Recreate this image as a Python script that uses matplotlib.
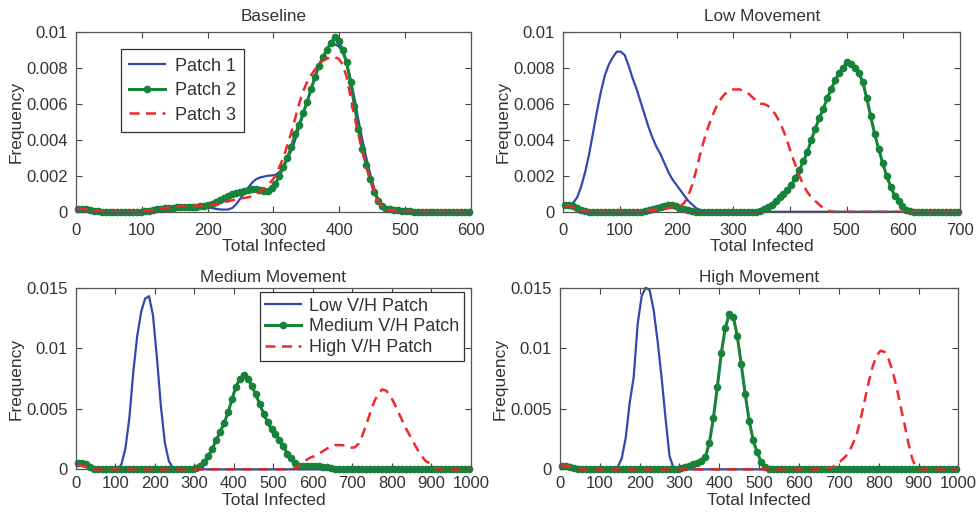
import numpy as np
import matplotlib
matplotlib.use("Agg")
import matplotlib.pyplot as plt
from matplotlib.ticker import FuncFormatter

plt.rcParams["font.family"] = ["Liberation Sans", "DejaVu Sans"]

# bin widths of the histograms (x positions are bin centres)
bin_base = 6
bin_low = 7
bin_big = 10

# ---- Baseline ----
base_p1 = [
    0.00015, 0.00015, 0.00014, 0.0001, 0.00006, 0.00003, 0.00001, 0, 0, 0,
    0, 0, 0, 0, 0, 0, 0, 0.00003, 0.00006, 0.0001,
    0.00013, 0.00016, 0.00019, 0.00021, 0.00023, 0.00025, 0.00026, 0.00027, 0.00027, 0.00028,
    0.00028, 0.00028, 0.00027, 0.00024, 0.0002, 0.00016, 0.00013, 0.00012, 0.00013, 0.0002,
    0.0004, 0.0007, 0.001, 0.0013, 0.0016, 0.0018, 0.0019, 0.00195, 0.002, 0.00202,
    0.00205, 0.0022, 0.0025, 0.0029, 0.0034, 0.004, 0.0047, 0.0054, 0.0061, 0.0068,
    0.0075, 0.0081, 0.0086, 0.009, 0.0093, 0.0093, 0.0092, 0.0089, 0.0083, 0.0074,
    0.0063, 0.0051, 0.004, 0.003, 0.0021, 0.0013, 0.0007, 0.0003, 0.00015, 0.0001,
    0.00008, 0.00006, 0.00004, 0.00002, 0.00001, 0, 0, 0, 0, 0,
    0, 0, 0, 0, 0, 0, 0, 0, 0, 0,
]
base_p2 = [
    0.00015, 0.00015, 0.00014, 0.0001, 0.00006, 0.00003, 0.00001, 0, 0, 0,
    0, 0, 0, 0, 0, 0, 0, 0.00003, 0.00006, 0.0001,
    0.00013, 0.00016, 0.00019, 0.00021, 0.00023, 0.00025, 0.00026, 0.00027, 0.00027, 0.00028,
    0.00029, 0.0003, 0.00032, 0.00036, 0.00045, 0.00055, 0.00065, 0.00077, 0.00088, 0.00097,
    0.00103, 0.00108, 0.00114, 0.0012, 0.00125, 0.00126, 0.0012, 0.00113, 0.00115, 0.0013,
    0.00155, 0.002, 0.0025, 0.003, 0.0036, 0.0043, 0.0048, 0.0055, 0.0061, 0.0068,
    0.0075, 0.0081, 0.0086, 0.009, 0.0094, 0.0097, 0.0095, 0.009, 0.0083, 0.0072,
    0.0059, 0.0046, 0.0035, 0.0026, 0.0018, 0.0011, 0.0006, 0.0003, 0.00018, 0.00013,
    0.0001, 0.00008, 0.00006, 0.00004, 0.00002, 0.00001, 0, 0, 0, 0,
    0, 0, 0, 0, 0, 0, 0, 0, 0, 0,
]
base_p3 = [
    0.0002, 0.00018, 0.00014, 0.0001, 0.00006, 0.00003, 0.00001, 0, 0, 0,
    0, 0, 0, 0, 0, 0, 0, 0.00003, 0.00007, 0.00011,
    0.00015, 0.00018, 0.00021, 0.00024, 0.00027, 0.0003, 0.00032, 0.00033, 0.00033, 0.00033,
    0.00033, 0.00033, 0.00034, 0.00035, 0.00038, 0.00042, 0.00047, 0.00053, 0.00058, 0.00063,
    0.00068, 0.00072, 0.00076, 0.0008, 0.00086, 0.00095, 0.0011, 0.0013, 0.0015, 0.0017,
    0.002, 0.0025, 0.003, 0.0037, 0.0044, 0.0052, 0.006, 0.0067, 0.0072, 0.0076,
    0.0079, 0.0082, 0.0084, 0.0085, 0.0086, 0.0086, 0.0085, 0.0082, 0.0075, 0.0064,
    0.0053, 0.0043, 0.0033, 0.0025, 0.0018, 0.0011, 0.0006, 0.0003, 0.00015, 0.0001,
    0.00005, 0.00002, 0, 0, 0, 0, 0, 0, 0, 0,
    0, 0, 0, 0, 0, 0, 0, 0, 0, 0,
]

# ---- Low Movement ----
low_p1 = [
    0.0003, 0.0003, 0.0005, 0.0008, 0.0014, 0.0022, 0.0032, 0.0044, 0.0056, 0.0067,
    0.0076, 0.0082, 0.0086, 0.0089, 0.0089, 0.0087, 0.0081, 0.0074, 0.0068, 0.0061,
    0.0054, 0.0047, 0.0041, 0.0036, 0.0032, 0.0027, 0.0022, 0.0018, 0.0015, 0.0012,
    0.0009, 0.0006, 0.0004, 0.0002, 0.0001, 0, 0, 0, 0, 0,
    0, 0, 0, 0, 0, 0, 0, 0, 0, 0,
    0, 0, 0, 0, 0, 0, 0, 0, 0, 0,
    0, 0, 0, 0, 0, 0, 0, 0, 0, 0,
    0, 0, 0, 0, 0, 0, 0, 0, 0, 0,
    0, 0, 0, 0, 0, 0, 0, 0, 0, 0,
    0, 0, 0, 0, 0, 0, 0, 0, 0, 0,
]
low_p2 = [
    0.00035, 0.00035, 0.0003, 0.0002, 0.0001, 0.00005, 0, 0, 0, 0,
    0, 0, 0, 0, 0, 0, 0, 0, 0, 0,
    0.00003, 0.00008, 0.00015, 0.0002, 0.00027, 0.00032, 0.00035, 0.00035, 0.0003, 0.00022,
    0.00014, 0.00008, 0.00004, 0.00001, 0, 0, 0, 0, 0, 0,
    0, 0, 0, 0, 0, 0, 0, 0, 0, 0.00005,
    0.00015, 0.00025, 0.0004, 0.0006, 0.0008, 0.001, 0.0012, 0.0015, 0.0019, 0.0023,
    0.0028, 0.0033, 0.004, 0.0046, 0.0052, 0.0057, 0.0063, 0.0068, 0.0073, 0.0077,
    0.008, 0.0083, 0.0082, 0.008, 0.0077, 0.0072, 0.0063, 0.0053, 0.0043, 0.0035,
    0.0027, 0.002, 0.0014, 0.0009, 0.0006, 0.0003, 0.0001, 0.00002, 0, 0,
    0, 0, 0, 0, 0, 0, 0, 0, 0, 0,
]
low_p3 = [
    0.00035, 0.0003, 0.00025, 0.00015, 0.0001, 0.00003, 0, 0, 0, 0,
    0, 0, 0, 0, 0, 0, 0, 0, 0, 0,
    0.00005, 0.0001, 0.0001, 0.00015, 0.0002, 0.0002, 0.0002, 0.00025, 0.0003, 0.0003,
    0.0005, 0.0009, 0.0015, 0.0023, 0.0032, 0.004, 0.0047, 0.0053, 0.0058, 0.0062,
    0.0065, 0.0067, 0.0068, 0.0068, 0.0068, 0.0067, 0.0066, 0.0064, 0.0062, 0.006,
    0.006, 0.0059, 0.0057, 0.0054, 0.005, 0.0045, 0.0039, 0.0032, 0.0026, 0.002,
    0.0015, 0.0011, 0.0008, 0.0006, 0.0004, 0.0002, 0.0001, 0, 0, 0,
    0, 0, 0, 0, 0, 0, 0, 0, 0, 0,
    0, 0, 0, 0, 0, 0, 0, 0, 0, 0,
    0, 0, 0, 0, 0, 0, 0, 0, 0, 0,
]

# ---- Medium Movement ----
med_low = [
    0.0005, 0.0005, 0.0004, 0.0002, 0.00005, 0, 0, 0, 0, 0,
    0, 0.0004, 0.0017, 0.0042, 0.008, 0.011, 0.013, 0.0141, 0.0143, 0.0127,
    0.0092, 0.0052, 0.0022, 0.0007, 0.0001, 0, 0, 0, 0, 0,
    0, 0, 0, 0, 0, 0, 0, 0, 0, 0,
    0, 0, 0, 0, 0, 0, 0, 0, 0, 0,
    0, 0, 0, 0, 0, 0, 0, 0, 0, 0,
    0, 0, 0, 0, 0, 0, 0, 0, 0, 0,
    0, 0, 0, 0, 0, 0, 0, 0, 0, 0,
    0, 0, 0, 0, 0, 0, 0, 0, 0, 0,
    0, 0, 0, 0, 0, 0, 0, 0, 0, 0,
]
med_med = [
    0.0005, 0.0005, 0.0004, 0.0002, 0.00005, 0, 0, 0, 0, 0,
    0, 0, 0, 0, 0, 0, 0, 0, 0, 0,
    0, 0, 0, 0, 0, 0, 0, 0, 0, 0.00003,
    0.0001, 0.0003, 0.0006, 0.0011, 0.0017, 0.0024, 0.0031, 0.0038, 0.0047, 0.0058,
    0.0068, 0.0075, 0.0078, 0.0075, 0.0069, 0.0062, 0.0054, 0.0046, 0.0039, 0.0033,
    0.0029, 0.0024, 0.0019, 0.0013, 0.0009, 0.0005, 0.0003, 0.0003, 0.0003, 0.0003,
    0.0003, 0.0003, 0.0002, 0.0002, 0.0001, 0.00005, 0, 0, 0, 0,
    0, 0, 0, 0, 0, 0, 0, 0, 0, 0,
    0, 0, 0, 0, 0, 0, 0, 0, 0, 0,
    0, 0, 0, 0, 0, 0, 0, 0, 0, 0,
]
med_high = [
    0.0004, 0.0003, 0.0002, 0.0001, 0, 0, 0, 0, 0, 0,
    0, 0, 0, 0, 0, 0, 0, 0, 0, 0,
    0, 0, 0, 0, 0, 0, 0, 0, 0, 0,
    0, 0, 0, 0, 0, 0, 0, 0, 0, 0,
    0, 0, 0, 0, 0, 0, 0, 0, 0, 0,
    0, 0, 0, 0, 0, 0.0001, 0.0003, 0.0006, 0.0008, 0.001,
    0.0011, 0.0013, 0.0015, 0.0017, 0.0019, 0.002, 0.002, 0.002, 0.0019, 0.0018,
    0.0018, 0.0021, 0.0028, 0.0037, 0.0047, 0.0056, 0.0062, 0.0066, 0.0065, 0.0061,
    0.0055, 0.0048, 0.0041, 0.0034, 0.0028, 0.0022, 0.0016, 0.0011, 0.0007, 0.0005,
    0.0002, 0.00005, 0, 0, 0, 0, 0, 0, 0, 0,
]

# ---- High Movement ----
high_low = [
    0.0003, 0.0003, 0.0002, 0.0001, 0, 0, 0, 0, 0, 0,
    0, 0, 0, 0, 0.0002, 0.0009, 0.0026, 0.0055, 0.0076, 0.012,
    0.0143, 0.015, 0.0148, 0.0132, 0.0106, 0.0076, 0.0042, 0.0011, 0.0001, 0,
    0, 0, 0, 0, 0, 0, 0, 0, 0, 0,
    0, 0, 0, 0, 0, 0, 0, 0, 0, 0,
    0, 0, 0, 0, 0, 0, 0, 0, 0, 0,
    0, 0, 0, 0, 0, 0, 0, 0, 0, 0,
    0, 0, 0, 0, 0, 0, 0, 0, 0, 0,
    0, 0, 0, 0, 0, 0, 0, 0, 0, 0,
    0, 0, 0, 0, 0, 0, 0, 0, 0, 0,
]
high_med = [
    0.0003, 0.0003, 0.0002, 0.0001, 0.00003, 0, 0, 0, 0, 0,
    0, 0, 0, 0, 0, 0, 0, 0, 0, 0,
    0, 0, 0, 0, 0, 0, 0, 0, 0, 0.00003,
    0.0001, 0.0002, 0.0003, 0.0004, 0.0005, 0.0007, 0.001, 0.0022, 0.0042, 0.0068,
    0.0096, 0.0117, 0.0128, 0.0126, 0.011, 0.0087, 0.0062, 0.004, 0.0024, 0.0014,
    0.0006, 0.0002, 0.00005, 0, 0, 0, 0, 0, 0, 0,
    0, 0, 0, 0, 0, 0, 0, 0, 0, 0,
    0, 0, 0, 0, 0, 0, 0, 0, 0, 0,
    0, 0, 0, 0, 0, 0, 0, 0, 0, 0,
    0, 0, 0, 0, 0, 0, 0, 0, 0, 0,
]
high_high = [
    0.0003, 0.0003, 0.0002, 0.0001, 0, 0, 0, 0, 0, 0,
    0, 0, 0, 0, 0, 0, 0, 0, 0, 0,
    0, 0, 0, 0, 0, 0, 0, 0, 0, 0,
    0, 0, 0, 0, 0, 0, 0, 0, 0, 0,
    0, 0, 0, 0, 0, 0, 0, 0, 0, 0,
    0, 0, 0, 0, 0, 0, 0, 0, 0, 0,
    0, 0, 0, 0, 0, 0, 0.00002, 0.0001, 0.0002, 0.0004,
    0.0007, 0.001, 0.0014, 0.0021, 0.0029, 0.0042, 0.0057, 0.0072, 0.0085, 0.0094,
    0.0098, 0.0097, 0.0091, 0.0081, 0.0068, 0.0052, 0.0037, 0.0021, 0.0008, 0.0001,
    0, 0, 0, 0, 0, 0, 0, 0, 0, 0,
]

BLUE = "#3447b0"
GREEN = "#17823a"
RED = "#f02a2a"
TXT = "#333333"


def bin_centres(vals, width):
    return width * (np.arange(len(vals)) + 0.5)


def draw_panel(ax, title, width, s1, s2, s3, labels, xmax, ymax, ystep,
               title_pad, xpad, legend_kw=None):
    ax.plot(bin_centres(s1, width), s1, color=BLUE, lw=1.6, label=labels[0], clip_on=False)
    ax.plot(bin_centres(s2, width), s2, color=GREEN, lw=2.2, marker="o", ms=4.5,
            label=labels[1], clip_on=False)
    ax.plot(bin_centres(s3, width), s3, color=RED, lw=1.8, ls=(0, (4, 2.6)),
            label=labels[2], clip_on=False)
    ax.set_xlim(0, xmax)
    ax.set_ylim(0, ymax)
    ax.set_xticks(np.arange(0, xmax + 1, 100))
    ax.set_yticks(np.arange(0, ymax + ystep / 2, ystep))
    ax.yaxis.set_major_formatter(FuncFormatter(lambda v, p: "%g" % round(v, 4)))
    ax.tick_params(direction="in", top=True, right=True, length=4, width=0.8,
                   labelsize=12, colors="#444444", labelcolor=TXT, pad=6)
    ax.tick_params(axis="x", pad=xpad)
    for sp in ax.spines.values():
        sp.set_color("#555555")
        sp.set_linewidth(0.9)
    ax.set_title(title, fontsize=12.3, color=TXT, pad=title_pad)
    ax.set_xlabel("Total Infected", fontsize=12.5, color=TXT, labelpad=1)
    ax.set_ylabel("Frequency", fontsize=12.5, color=TXT, labelpad=2)
    if legend_kw is not None:
        leg = ax.legend(fontsize=13, frameon=True, fancybox=False, framealpha=1,
                        borderaxespad=0, **legend_kw)
        leg.get_frame().set_edgecolor("#333333")
        leg.get_frame().set_linewidth(0.9)
        for t in leg.get_texts():
            t.set_color(TXT)


fig = plt.figure(figsize=(9.79, 5.14), dpi=100)

ax1 = fig.add_axes([0.0776, 0.588, 0.4035, 0.350])
ax2 = fig.add_axes([0.5754, 0.588, 0.4052, 0.350])
ax3 = fig.add_axes([0.0776, 0.0869, 0.4035, 0.3533])
ax4 = fig.add_axes([0.5720, 0.0869, 0.4069, 0.3533])

patch_labels = ["Patch 1", "Patch 2", "Patch 3"]
vh_labels = ["Low V/H Patch", "Medium V/H Patch", "High V/H Patch"]

draw_panel(ax1, "Baseline", bin_base, base_p1, base_p2, base_p3, patch_labels,
           600, 0.01, 0.002, 7.5, 8,
           legend_kw=dict(loc="upper left", bbox_to_anchor=(0.113, 0.902),
                          handlelength=2.0, handletextpad=0.55, labelspacing=0.42,
                          borderpad=0.45))
draw_panel(ax2, "Low Movement", bin_low, low_p1, low_p2, low_p3, patch_labels,
           700, 0.01, 0.002, 7.5, 8)
draw_panel(ax3, "Medium Movement", bin_big, med_low, med_med, med_high, vh_labels,
           1000, 0.015, 0.005, 4, 5,
           legend_kw=dict(loc="upper right", bbox_to_anchor=(0.983, 0.975),
                          handlelength=2.0, handletextpad=0.4, labelspacing=0.2,
                          borderpad=0.3))
draw_panel(ax4, "High Movement", bin_big, high_low, high_med, high_high, vh_labels,
           1000, 0.015, 0.005, 4, 5)

fig.savefig("out.png", dpi=100)
